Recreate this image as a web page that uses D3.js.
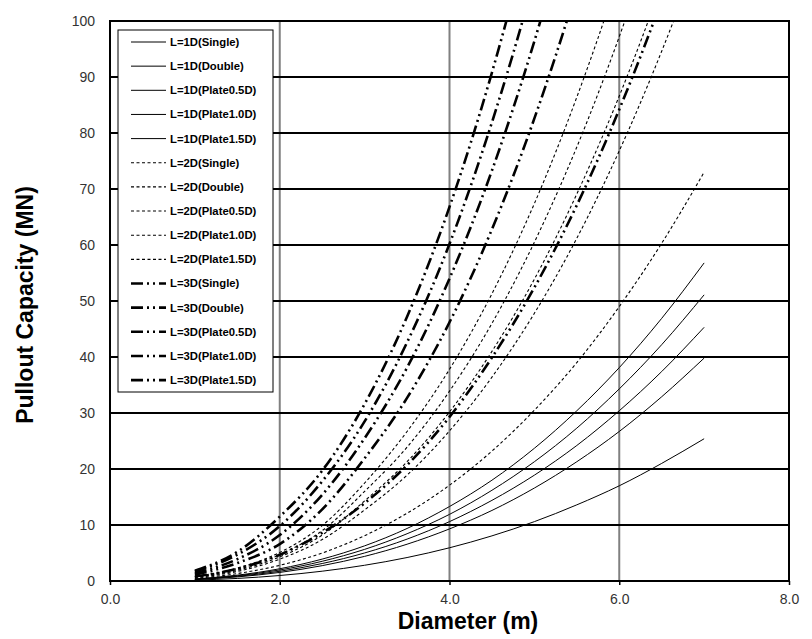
<!DOCTYPE html>
<html>
<head>
<meta charset="utf-8">
<script src="https://cdn.jsdelivr.net/npm/d3@7"></script>
<style>
  html, body { margin: 0; padding: 0; background: #fff; }
  svg { display: block; }
</style>
</head>
<body>
<svg id="chart" width="812" height="639"></svg>
<script>
// ---- data ----
const diameters = [1.0, 1.5, 2.0, 2.5, 3.0, 3.5, 4.0, 4.5, 5.0, 5.5, 6.0, 6.5, 7.0];

const L1D_Single   = [0.16, 0.46, 0.98, 1.75, 2.81, 4.19, 5.93, 8.06, 10.6, 13.6, 17.0, 21.0, 25.4];
const L1D_Double   = [0.25, 0.73, 1.53, 2.74, 4.40, 6.57, 9.30, 12.6, 16.6, 21.3, 26.7, 32.9, 39.8];
const L1D_Plate05  = [0.29, 0.83, 1.74, 3.12, 5.01, 7.48, 10.6, 14.4, 18.9, 24.2, 30.4, 37.4, 45.3];
const L1D_Plate10  = [0.32, 0.93, 1.97, 3.52, 5.65, 8.44, 11.9, 16.2, 21.3, 27.3, 34.3, 42.2, 51.1];
const L1D_Plate15  = [0.36, 1.04, 2.19, 3.91, 6.28, 9.38, 13.3, 18.0, 23.7, 30.4, 38.1, 46.9, 56.8];

const L2D_Single   = [0.46, 1.33, 2.8, 5.0, 8.1, 12.1, 17.1, 23.2, 30.5, 39.0, 49.0, 60.3, 73.0];
const L2D_Double   = [0.62, 1.7, 3.9, 7.4, 12.7, 18.9, 26.8, 36.4, 47.8, 61.2, 76.8, 94.6, 114.6];
const L2D_Plate05  = [0.70, 1.9, 4.3, 8.2, 14.3, 21.3, 30.2, 41.0, 53.9, 69.1, 86.6, 106.6, 129.2];
const L2D_Plate10  = [0.75, 2.1, 4.7, 9.0, 16.0, 23.9, 33.9, 46.0, 60.5, 77.5, 97.2, 119.6, 145.0];
const L2D_Plate15  = [0.80, 2.3, 5.1, 9.9, 17.5, 26.7, 37.8, 51.3, 67.4, 86.4, 108.3, 133.4, 161.6];

const L3D_Single   = [0.80, 2.2, 4.7, 8.6, 13.9, 20.7, 29.3, 39.9, 52.4, 67.1, 84.2, 103.7, 125.6];
const L3D_Double   = [1.10, 3.2, 6.6, 12.8, 21.9, 32.7, 46.2, 62.8, 82.6, 105.8, 132.7, 163.4, 198.0];
const L3D_Plate05  = [1.35, 3.9, 8.2, 15.4, 25.5, 38.1, 54.0, 73.3, 96.4, 123.5, 154.9, 190.7, 231.1];
const L3D_Plate10  = [1.64, 4.7, 9.8, 17.8, 28.5, 42.6, 60.2, 81.9, 107.6, 137.9, 172.9, 212.9, 258.0];
const L3D_Plate15  = [1.82, 5.2, 11.5, 19.7, 31.6, 47.2, 66.8, 90.8, 119.4, 152.9, 191.8, 236.2, 286.2];

const seriesNames = [
  "L=1D(Single)", "L=1D(Double)", "L=1D(Plate0.5D)", "L=1D(Plate1.0D)", "L=1D(Plate1.5D)",
  "L=2D(Single)", "L=2D(Double)", "L=2D(Plate0.5D)", "L=2D(Plate1.0D)", "L=2D(Plate1.5D)",
  "L=3D(Single)", "L=3D(Double)", "L=3D(Plate0.5D)", "L=3D(Plate1.0D)", "L=3D(Plate1.5D)"
];
const seriesGroup = [1,1,1,1,1, 2,2,2,2,2, 3,3,3,3,3];
const seriesValues = [
  L1D_Single, L1D_Double, L1D_Plate05, L1D_Plate10, L1D_Plate15,
  L2D_Single, L2D_Double, L2D_Plate05, L2D_Plate10, L2D_Plate15,
  L3D_Single, L3D_Double, L3D_Plate05, L3D_Plate10, L3D_Plate15
];

const xTickValues = [0, 2, 4, 6, 8];
const xTickLabels = ["0.0", "2.0", "4.0", "6.0", "8.0"];
const yTickValues = [0, 10, 20, 30, 40, 50, 60, 70, 80, 90, 100];
const xTitle = "Diameter (m)";
const yTitle = "Pullout Capacity (MN)";

// ---- layout ----
const svg = d3.select("#chart");
const plot = { left: 110, right: 789, top: 21, bottom: 581 };
const x = d3.scaleLinear().domain([0, 8]).range([plot.left, plot.right]);
const y = d3.scaleLinear().domain([0, 100]).range([plot.bottom, plot.top]);

const styles = {
  1: { width: 1, dash: null },
  2: { width: 1.1, dash: "3,2.5" },
  3: { width: 2.6, dash: "12,4,2,4,2,4" }
};

svg.append("defs").append("clipPath").attr("id", "plotclip")
  .append("rect")
  .attr("x", plot.left).attr("y", plot.top)
  .attr("width", plot.right - plot.left).attr("height", plot.bottom - plot.top);

// vertical gridlines (gray)
svg.append("g").selectAll("line")
  .data(xTickValues.filter(v => v > 0 && v < 8))
  .join("line")
  .attr("x1", d => x(d)).attr("x2", d => x(d))
  .attr("y1", plot.top).attr("y2", plot.bottom)
  .attr("stroke", "#808080").attr("stroke-width", 2);

// horizontal gridlines (black)
svg.append("g").selectAll("line")
  .data(yTickValues)
  .join("line")
  .attr("x1", plot.left).attr("x2", plot.right)
  .attr("y1", d => y(d)).attr("y2", d => y(d))
  .attr("stroke", "#000").attr("stroke-width", 2.2);

// plot border
svg.append("rect")
  .attr("x", plot.left).attr("y", plot.top)
  .attr("width", plot.right - plot.left).attr("height", plot.bottom - plot.top)
  .attr("fill", "none").attr("stroke", "#000").attr("stroke-width", 2);

// axes (labels via d3 axis)
const xAxis = d3.axisBottom(x).tickValues(xTickValues)
  .tickFormat((d, i) => xTickLabels[i]).tickSize(4).tickPadding(9);
const gx = svg.append("g").attr("transform", `translate(0,${plot.bottom})`).call(xAxis);
gx.select(".domain").remove();
gx.selectAll(".tick line").attr("stroke", "#000").attr("stroke-width", 1.5);
gx.selectAll("text").attr("font-family", "'Liberation Sans', Arial, sans-serif")
  .attr("font-size", 14).attr("fill", "#333");

const yAxis = d3.axisLeft(y).tickValues(yTickValues).tickSize(0).tickPadding(15);
const gy = svg.append("g").attr("transform", `translate(${plot.left},0)`).call(yAxis);
gy.select(".domain").remove();
gy.selectAll("text").attr("font-family", "'Liberation Sans', Arial, sans-serif")
  .attr("font-size", 14).attr("fill", "#333");

// series
const line = d3.line()
  .x(d => x(d[0])).y(d => y(d[1]))
  .curve(d3.curveMonotoneX);

const gs = svg.append("g").attr("clip-path", "url(#plotclip)");
seriesValues.forEach((vals, i) => {
  const st = styles[seriesGroup[i]];
  gs.append("path")
    .datum(diameters.map((d, j) => [d, vals[j]]))
    .attr("d", line)
    .attr("fill", "none")
    .attr("stroke", "#000")
    .attr("stroke-width", st.width)
    .attr("stroke-dasharray", st.dash);
});

// legend
const lg = svg.append("g");
lg.append("rect")
  .attr("x", 118).attr("y", 30).attr("width", 155).attr("height", 362)
  .attr("fill", "#fff").attr("stroke", "#000").attr("stroke-width", 1);
seriesNames.forEach((name, i) => {
  const yy = 42 + i * 24.15;
  const st = styles[seriesGroup[i]];
  lg.append("line")
    .attr("x1", 131).attr("x2", 166).attr("y1", yy).attr("y2", yy)
    .attr("stroke", "#000").attr("stroke-width", st.width)
    .attr("stroke-dasharray", st.dash);
  lg.append("text")
    .attr("x", 170).attr("y", yy).attr("dy", "0.35em")
    .attr("font-family", "'Liberation Sans', Arial, sans-serif")
    .attr("font-size", 11.3).attr("font-weight", "bold")
    .attr("fill", "#000")
    .text(name);
});

// titles
svg.append("text")
  .attr("x", 468).attr("y", 629)
  .attr("text-anchor", "middle")
  .attr("font-family", "'Liberation Sans', Arial, sans-serif")
  .attr("font-size", 23).attr("font-weight", "bold")
  .text(xTitle);

svg.append("text")
  .attr("transform", "translate(33,305) rotate(-90)")
  .attr("text-anchor", "middle")
  .attr("font-family", "'Liberation Sans', Arial, sans-serif")
  .attr("font-size", 23).attr("font-weight", "bold")
  .text(yTitle);
</script>
</body>
</html>
